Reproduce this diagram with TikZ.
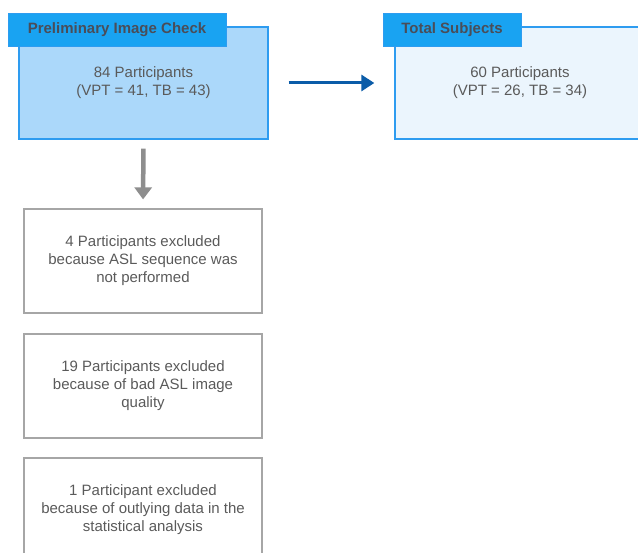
\documentclass[tikz,border=0pt]{standalone}
\usepackage{fontspec}
\setmainfont{Liberation Sans}
\usetikzlibrary{arrows.meta}
\usetikzlibrary{positioning}
\definecolor{headblue}{HTML}{19A3F2}
\definecolor{edgeblue}{HTML}{2E9CF0}
\definecolor{prelimfill}{HTML}{ABD8FA}
\definecolor{totalfill}{HTML}{EBF5FD}
\definecolor{arrowblue}{HTML}{0B5CA8}
\definecolor{textgray}{HTML}{5A5A5A}
\definecolor{headtext}{HTML}{4A4D58}
\definecolor{excledge}{HTML}{A6A6A6}
\definecolor{arrowgray}{HTML}{8E8E8E}
\tikzset{
    stage box/.style={
        draw=edgeblue,
        line width=1.3pt,
        minimum height=112pt,
        inner sep=0,
        align=center,
        text=textgray,
        font=\fontsize{15}{18}\selectfont,
    },
    stage tab/.style={
        draw=edgeblue,
        fill=headblue,
        line width=0.8pt,
        minimum height=33pt,
        inner sep=0,
        text=headtext,
        font=\fontsize{15}{18}\selectfont\bfseries,
    },
    exclusion box/.style={
        draw=excledge,
        line width=1.2pt,
        minimum width=238pt,
        minimum height=104pt,
        inner sep=0,
        align=center,
        text=textgray,
        font=\fontsize{15}{18}\selectfont,
    },
    flow arrow/.style={
        draw=arrowblue,
        line width=3pt,
        -{Triangle[width=16pt,length=13pt]},
        shorten <=20pt,
        shorten >=20pt,
    },
    drop arrow/.style={
        draw=arrowgray,
        line width=4.5pt,
        -{Triangle[width=17pt,length=12pt]},
        shorten <=9pt,
        shorten >=9pt,
    },
}

\begin{document}
\begin{tikzpicture}[x=1pt,y=-1pt]
    \clip (0,0) rectangle (638,553);

    % stage boxes
    \node[stage box, fill=prelimfill, minimum width=249pt] (prelim) at (143.5,83)
        {84 Participants\\(VPT = 41, TB = 43)};
    \node[stage box, fill=totalfill, minimum width=250pt] (total) at (520,83)
        {60 Participants\\(VPT = 26, TB = 34)};
    \node[stage tab, minimum width=218pt] (prelimtab) at (117,29.5) {Preliminary Image Check};
    \node[stage tab, minimum width=138pt] (totaltab) at (452,29.5) {Total Subjects};

    % exclusions
    \node[exclusion box] (excl1) at (143,261)
        {4 Participants excluded\\because ASL sequence was\\not performed};
    \node[exclusion box] (excl2) at (143,386)
        {19 Participants excluded\\because of bad ASL image\\quality};
    \node[exclusion box] (excl3) at (143,510)
        {1 Participant excluded\\because of outlying data in the\\statistical analysis};

    \draw[flow arrow] (prelim.east) -- (total.west);
    \draw[drop arrow] (prelim.south) -- (excl1.north);

\end{tikzpicture}
\end{document}
